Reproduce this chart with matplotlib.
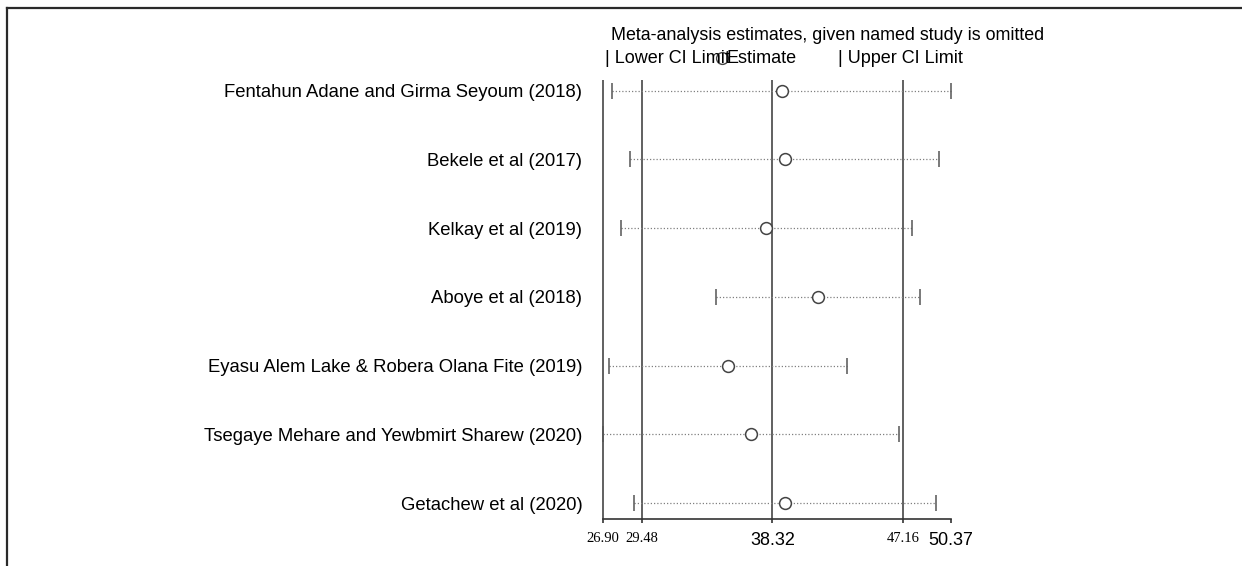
import matplotlib.pyplot as plt
from matplotlib.lines import Line2D

plt.rcParams["font.family"] = ["Liberation Sans", "DejaVu Sans"]

# Leave-one-out estimates with 95% CI
studies = [
    "Fentahun Adane and Girma Seyoum (2018)",
    "Bekele et al (2017)",
    "Kelkay et al (2019)",
    "Aboye et al (2018)",
    "Eyasu Alem Lake & Robera Olana Fite (2019)",
    "Tsegaye Mehare and Yewbmirt Sharew (2020)",
    "Getachew et al (2020)",
]
estimate = [38.93, 39.16, 37.86, 41.41, 35.32, 36.89, 39.16]
lower = [27.46, 28.70, 28.09, 34.48, 27.28, 26.90, 28.97]
upper = [50.37, 49.56, 47.72, 48.27, 43.37, 46.84, 49.35]

# Pooled estimate and its CI, plus axis extremes
axis_min, pooled_low, pooled_est, pooled_high, axis_max = 26.90, 29.48, 38.32, 47.16, 50.37
tick_vals = [axis_min, pooled_low, pooled_est, pooled_high, axis_max]
tick_labels = ["26.90", "29.48", "38.32", "47.16", "50.37"]

W, H = 1242, 566
fig = plt.figure(figsize=(W / 100, H / 100), dpi=100)

x0, x1 = 603.3, 951.0
y_bot, y_top = 519.3, 80.0
ax = fig.add_axes([x0 / W, (H - y_bot) / H, (x1 - x0) / W, (y_bot - y_top) / H])

n = len(studies)
ypos = [n - i for i in range(n)]
ax.set_xlim(axis_min, axis_max)
ax.set_ylim(0.763, 7.156)

# reference lines for the pooled result
ax.vlines([axis_min, pooled_low, pooled_est, pooled_high], 0.763, 7.156,
          colors="#606060", linewidth=1.4, zorder=1, clip_on=False)

for y, lo, est, hi in zip(ypos, lower, estimate, upper):
    ax.plot([lo, hi], [y, y], linestyle=(0, (1, 1.6)), color="#808080",
            linewidth=0.9, zorder=2, clip_on=False)
    ax.plot([lo, hi], [y, y], linestyle="none", marker="|", markersize=12,
            markeredgewidth=1.1, color="#555555", zorder=3, clip_on=False)
    ax.plot(est, y, marker="o", markersize=8.5, markerfacecolor="white",
            markeredgecolor="#444444", markeredgewidth=1.1, zorder=4)

ax.set_yticks(ypos)
ax.set_yticklabels(studies, fontsize=13.3)
ax.tick_params(axis="y", length=0, pad=15)

ax.set_xticks(tick_vals)
ax.set_xticklabels(tick_labels)
ax.tick_params(axis="x", length=3, width=1.2, color="#333333", pad=6)
for lab, txt in zip(ax.get_xticklabels(), tick_labels):
    if txt in ("38.32", "50.37"):
        lab.set_fontfamily("Liberation Sans")
        lab.set_fontsize(13)
    else:
        lab.set_fontfamily("Liberation Serif")
        lab.set_fontsize(10.5)

for side in ("left", "right", "top"):
    ax.spines[side].set_visible(False)
ax.spines["bottom"].set_linewidth(1.2)
ax.spines["bottom"].set_color("#333333")

# title and legend row
fig.text(611 / W, 1 - 35 / H, "Meta-analysis estimates, given named study is omitted",
         fontsize=12.9, ha="left", va="center")
fig.text(605 / W, 1 - 58 / H, "| Lower CI Limit", fontsize=13, ha="left", va="center")
fig.text(726 / W, 1 - 58 / H, "Estimate", fontsize=13, ha="left", va="center")
fig.text(838 / W, 1 - 58 / H, "| Upper CI Limit", fontsize=13, ha="left", va="center")
fig.add_artist(Line2D([721.7 / W], [1 - 58 / H], marker="o", markersize=8.5,
                      markerfacecolor="white", markeredgecolor="#444444",
                      markeredgewidth=1.0, linestyle="none"))

# frame along top and left edges
fig.add_artist(Line2D([6.7 / W, 1], [1 - 7.7 / H, 1 - 7.7 / H], color="#2a2a2a", linewidth=1.6))
fig.add_artist(Line2D([6.7 / W, 6.7 / W], [0, 1 - 7.7 / H], color="#2a2a2a", linewidth=1.6))

fig.savefig("out.png", dpi=100)
